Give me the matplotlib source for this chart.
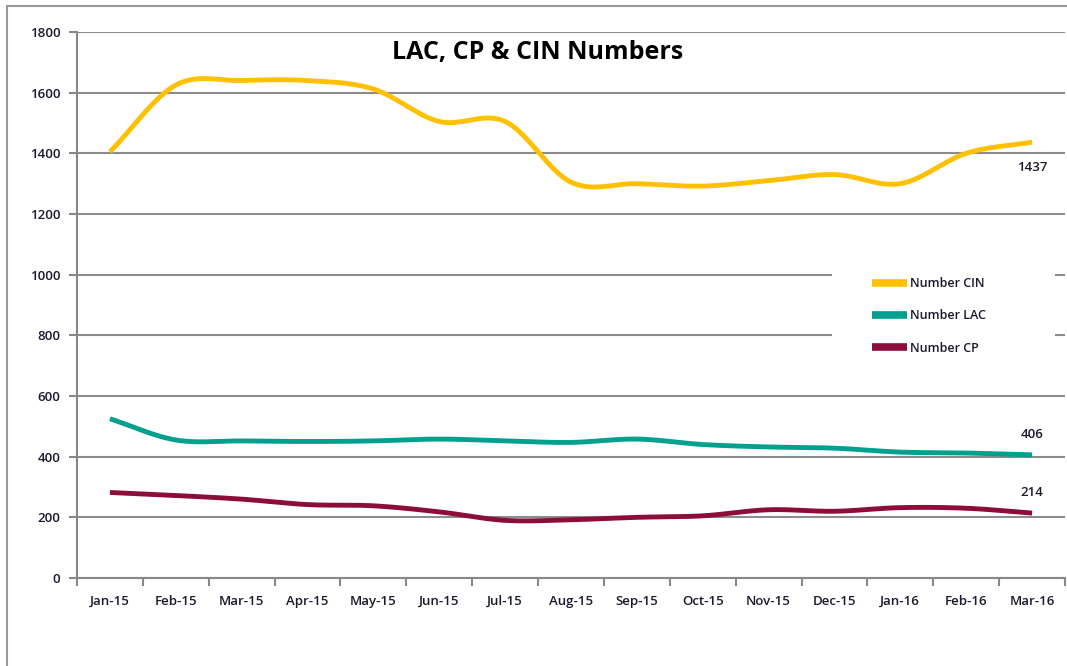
import matplotlib.pyplot as plt
import numpy as np
from matplotlib.patches import Rectangle

months = ['Jan-15', 'Feb-15', 'Mar-15', 'Apr-15', 'May-15', 'Jun-15', 'Jul-15', 'Aug-15',
          'Sep-15', 'Oct-15', 'Nov-15', 'Dec-15', 'Jan-16', 'Feb-16', 'Mar-16']
cin = [1405, 1625, 1640, 1640, 1612, 1505, 1505, 1305, 1300, 1292, 1310, 1330, 1300, 1400, 1437]
lac = [525, 455, 452, 450, 452, 458, 452, 447, 458, 440, 432, 428, 415, 412, 406]
cp = [282, 272, 260, 242, 238, 218, 190, 192, 200, 205, 225, 220, 232, 230, 214]

def smooth(y, n=20):
    # catmull-rom, looks like excel's smoothed line
    y = np.asarray(y, float)
    x = np.arange(len(y), dtype=float)
    p = np.concatenate([[2*y[0]-y[1]], y, [2*y[-1]-y[-2]]])
    xs, ys = [], []
    for i in range(len(y)-1):
        t = np.linspace(0, 1, n, endpoint=False)
        p0, p1, p2, p3 = p[i], p[i+1], p[i+2], p[i+3]
        ys.append(0.5*(2*p1 + (-p0+p2)*t + (2*p0-5*p1+4*p2-p3)*t**2 + (-p0+3*p1-3*p2+p3)*t**3))
        xs.append(x[i] + t)
    xs.append([x[-1]]); ys.append([y[-1]])
    return np.concatenate(xs), np.concatenate(ys)

plt.rcParams['font.family'] = ['Open Sans', 'DejaVu Sans']
plt.rcParams['font.weight'] = 600
txtcol = '#1a1a2e'

fig = plt.figure(figsize=(10.67, 6.66), dpi=100)
ax = fig.add_axes([77/1067, 1-578/666, (1065-77)/1067, (578-32)/666])

series = [('Number CIN', cin, '#FFC000'), ('Number LAC', lac, '#00A08E'), ('Number CP', cp, '#8C0C3A')]
for name, vals, col in series:
    sx, sy = smooth(vals)
    ax.plot(sx, sy, color=col, lw=3.5, label=name, solid_capstyle='butt', zorder=3)

ax.set_xlim(-0.5, len(months)-0.5)
ax.set_ylim(0, 1800)
ax.set_yticks(range(0, 1801, 200))
ax.set_xticks(range(len(months)))
ax.set_xticklabels(months)
ax.set_xticks(np.arange(-0.5, len(months), 1), minor=True)
ax.tick_params(axis='x', which='major', length=0, pad=12, labelsize=9.5, labelcolor=txtcol)
ax.tick_params(axis='x', which='minor', length=6, width=1.5, color='#888888')
ax.tick_params(axis='y', length=6, width=1.5, color='#888888', labelsize=9.5, labelcolor=txtcol, pad=6)
ax.grid(axis='y', color='#8c8c8c', lw=1.5, zorder=0)
for s in ['top', 'right']:
    ax.spines[s].set_visible(False)
for s in ['left', 'bottom']:
    ax.spines[s].set_color('#888888')
    ax.spines[s].set_linewidth(1.5)

ax.set_title('LAC, CP & CIN Numbers', fontsize=18, fontweight='bold', y=0.935, x=0.466)

ax.annotate(str(cin[-1]), (14, cin[-1]), xytext=(0, -21), textcoords='offset points',
            ha='center', fontsize=9.5, color=txtcol)
ax.annotate(str(lac[-1]), (14, lac[-1]), xytext=(0, 12), textcoords='offset points',
            ha='center', fontsize=9.5, color=txtcol)
ax.annotate(str(cp[-1]), (14, cp[-1]), xytext=(0, 12), textcoords='offset points',
            ha='center', fontsize=9.5, color=txtcol)

# white legend box over the gridlines
ax.add_patch(Rectangle((0.764, 0.381), 0.226, 0.198, transform=ax.transAxes,
                       facecolor='white', edgecolor='none', zorder=2))
leg = ax.legend(loc='center left', bbox_to_anchor=(0.798, 0.48), frameon=False, fontsize=9,
                handlelength=2.8, handletextpad=0.25, labelspacing=1.55, borderpad=0)
for h in leg.get_lines():
    h.set_linewidth(5.5)
for t in leg.get_texts():
    t.set_color(txtcol)

fig.patches.append(Rectangle((7/1067, -0.1), 1.2, 1-6/666+0.1, transform=fig.transFigure,
                             fill=False, edgecolor='#999999', lw=1.5))

fig.savefig('out.png', dpi=100)
